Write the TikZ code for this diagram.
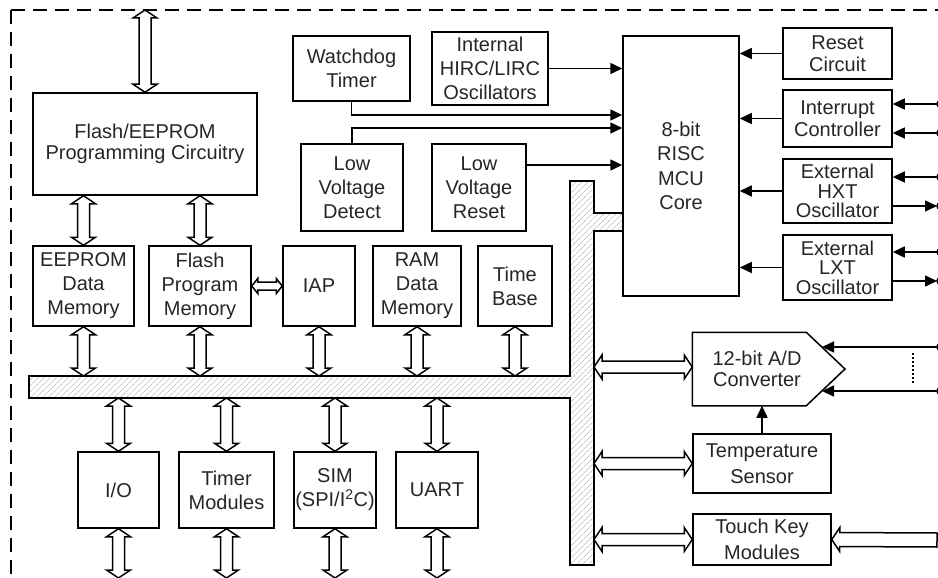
\documentclass[tikz,border=0pt]{standalone}
\usepackage{fontspec}
\setmainfont{Liberation Sans}
\usetikzlibrary{calc,arrows.meta,patterns.meta}
\tikzset{
  blk/.style={draw, line width=1.5pt, align=center, inner sep=0pt, text=black!85,
    font=\fontsize{20}{24}\selectfont},
  lsp/.style={font=\fontsize{20}{#1}\selectfont},
  sig/.style={line width=1.5pt, -{Triangle[length=12pt,width=11pt]}},
  fatgen/.style n args={3}{line width=1.5pt, fill=white, to path={
    -- ($(\tikztostart)!#3!(\tikztotarget)!#2!90:(\tikztotarget)$)
    -- ($(\tikztostart)!#3!(\tikztotarget)!#1!90:(\tikztotarget)$)
    -- ($(\tikztotarget)!#3!(\tikztostart)!#1!-90:(\tikztostart)$)
    -- ($(\tikztotarget)!#3!(\tikztostart)!#2!-90:(\tikztostart)$)
    -- (\tikztotarget)
    -- ($(\tikztotarget)!#3!(\tikztostart)!#2!90:(\tikztostart)$)
    -- ($(\tikztotarget)!#3!(\tikztostart)!#1!90:(\tikztostart)$)
    -- ($(\tikztostart)!#3!(\tikztotarget)!#1!-90:(\tikztotarget)$)
    -- ($(\tikztostart)!#3!(\tikztotarget)!#2!-90:(\tikztotarget)$)
    -- cycle}},
  fatarrow/.style={fatgen={6pt}{12pt}{8pt}},
  fatsmall/.style={fatgen={4pt}{7.5pt}{6pt}},
  fathead/.style={line width=1.5pt, fill=white, to path={
    -- ($(\tikztostart)!7pt!90:(\tikztotarget)$)
    -- ($(\tikztotarget)!8pt!(\tikztostart)!7pt!-90:(\tikztostart)$)
    -- ($(\tikztotarget)!8pt!(\tikztostart)!12pt!-90:(\tikztostart)$)
    -- (\tikztotarget)
    -- ($(\tikztotarget)!8pt!(\tikztostart)!12pt!90:(\tikztostart)$)
    -- ($(\tikztotarget)!8pt!(\tikztostart)!7pt!90:(\tikztostart)$)
    -- ($(\tikztostart)!7pt!-90:(\tikztotarget)$)
    -- cycle}},
  pin/.style={line width=1.5pt, fill=white},
}
\begin{document}
\begin{tikzpicture}[x=1pt,y=-1pt]
\useasboundingbox (0,0) rectangle (938,578);

% dashed border
\draw[line width=1.5pt, dash pattern=on 14pt off 8pt] (11,10) -- (938,10);
\draw[line width=1.5pt, dash pattern=on 14pt off 8pt] (11,10) -- (11,578);

% helper levels
\coordinate (ytop) at (0,10);
\coordinate (ybot) at (0,578);
\coordinate (busT) at (0,376);
\coordinate (busB) at (0,398);
\coordinate (busR) at (594,0);
\coordinate (yw) at (0,115);
\coordinate (yd) at (0,128);
\coordinate (yr) at (0,165);
\coordinate (yadc) at (0,367);

% bus
\draw[line width=1.5pt, pattern={Lines[angle=45,distance=4pt,line width=0.5pt]}, pattern color=black!35]
  (29,376) -- (570,376) -- (570,181) -- (594,181) -- (594,213) -- (623,213)
  -- (623,231) -- (594,231) -- (594,565) -- (570,565) -- (570,398) -- (29,398) -- cycle;

% blocks
\node[blk, lsp=21, minimum width=224pt, minimum height=102pt] (flash) at (145,144) {Flash/EEPROM\\Programming Circuitry};
\node[blk, minimum width=101pt, minimum height=80pt] (ee) at (83.5,286) {EEPROM\\Data\\Memory};
\node[blk, minimum width=102pt, minimum height=80pt] (fpm) at (200,286) {Flash\\Program\\Memory};
\node[blk, minimum width=72pt, minimum height=80pt] (iap) at (319,286) {IAP};
\node[blk, minimum width=88pt, minimum height=80pt] (ram) at (417,286) {RAM\\Data\\Memory};
\node[blk, minimum width=74pt, minimum height=80pt] (tb) at (515,286) {Time\\Base};
\node[blk, minimum width=117pt, minimum height=65pt] (wdt) at (351.5,68.5) {Watchdog\\Timer};
\node[blk, minimum width=116pt, minimum height=73pt] (irc) at (490,68.5) {Internal\\HIRC/LIRC\\Oscillators};
\node[blk, minimum width=102pt, minimum height=87pt] (lvd) at (352,187.5) {Low\\Voltage\\Detect};
\node[blk, minimum width=94pt, minimum height=87pt] (lvr) at (479,187.5) {Low\\Voltage\\Reset};
\node[blk, lsp=24.5, minimum width=116pt, minimum height=260pt] (cpu) at (681,166) {8-bit\\RISC\\MCU\\Core};
\node[blk, lsp=22, minimum width=109pt, minimum height=51pt] (rst) at (837.5,53.5) {Reset\\Circuit};
\node[blk, lsp=22, minimum width=109pt, minimum height=57pt] (int) at (837.5,118.5) {Interrupt\\Controller};
\node[blk, lsp=19.5, minimum width=109pt, minimum height=64pt] (hxt) at (837.5,191) {External\\HXT\\Oscillator};
\node[blk, lsp=19.5, minimum width=109pt, minimum height=65pt] (lxt) at (837.5,267.5) {External\\LXT\\Oscillator};
\node[blk, lsp=26, minimum width=138pt, minimum height=59pt] (tmp) at (762,463.5) {Temperature\\Sensor};
\node[blk, lsp=26, minimum width=138pt, minimum height=51pt] (tk) at (762,539.5) {Touch Key\\Modules};
\node[blk, minimum width=81pt, minimum height=76pt] (io) at (118.5,490) {I/O};
\node[blk, minimum width=95pt, minimum height=76pt] (tmr) at (226.5,490) {Timer\\Modules};
\node[blk, minimum width=82pt, minimum height=76pt] (sim) at (335,490) {SIM\\(SPI/I\textsuperscript{2}C)};
\node[blk, minimum width=82pt, minimum height=76pt] (uart) at (437,490) {UART};

% ADC
\node[blk, draw=none, lsp=21, minimum width=128pt, minimum height=72pt] (adc) at (757,369) {12-bit A/D\\Converter};
\draw[line width=1.5pt] (adc.south west) -- (adc.north west) -- ($(adc.north west)+(114,0)$)
  -- (845,369) -- ($(adc.south west)+(114,0)$) -- cycle;
\coordinate (adcin1) at (822,347);
\coordinate (adcin2) at (822,391);

% pins on the right edge
\foreach \n/\y in {p1/104,p2/133,p3/177,p4/206,p5/252,p6/281,p7/347,p8/391}{
  \coordinate (\n) at (937,\y);
  \draw[pin] (940,\y) circle (3pt);
}
\coordinate (ptk) at (937,540);

% single line connectors
\draw[sig] (irc.east) -- (irc.east -| cpu.west);
\draw[sig] (wdt.south) |- (cpu.west |- yw);
\draw[sig] (lvd.north) |- (cpu.west |- yd);
\draw[sig] (lvr.east |- yr) -- (cpu.west |- yr);
\draw[sig] (rst.west) -- (rst.west -| cpu.east);
\draw[sig] (int.west) -- (int.west -| cpu.east);
\draw[sig] (hxt.west) -- (hxt.west -| cpu.east);
\draw[sig] (lxt.west) -- (lxt.west -| cpu.east);
\draw[sig] (p1) -- (p1 -| int.east);
\draw[sig] (p2) -- (p2 -| int.east);
\draw[sig] (p3) -- (p3 -| hxt.east);
\draw[sig] (p4 -| hxt.east) -- (p4);
\draw[sig] (p5) -- (p5 -| lxt.east);
\draw[sig] (p6 -| lxt.east) -- (p6);
\draw[sig] (p7) -- (adcin1);
\draw[sig] (p8) -- (adcin2);
\draw[line width=1.5pt, dash pattern=on 2pt off 2pt] (913,353) -- (913,383);
\draw[sig] (tmp.north) -- (tmp.north |- adc.south);

% fat bus arrows
\draw[fatarrow] (flash.north |- ytop) to (flash.north);
\draw[fatarrow] (ee.north |- flash.south) to (ee.north);
\draw[fatarrow] (fpm.north |- flash.south) to (fpm.north);
\draw[fatsmall] (fpm.east) to (iap.west);
\foreach \b in {ee,fpm,iap,ram,tb}{
  \draw[fatarrow] (\b.south) to (\b.south |- busT);
}
\foreach \b in {io,tmr,sim,uart}{
  \draw[fatarrow] (\b.north |- busB) to (\b.north);
  \draw[fatarrow] (\b.south) to (\b.south |- ybot);
}
\draw[fatarrow] (busR |- yadc) to (adc.west |- yadc);
\draw[fatarrow] (busR |- tmp.west) to (tmp.west);
\draw[fatarrow] (busR |- tk.west) to (tk.west);
\draw[fathead] (ptk) to (tk.east);
\end{tikzpicture}
\end{document}
